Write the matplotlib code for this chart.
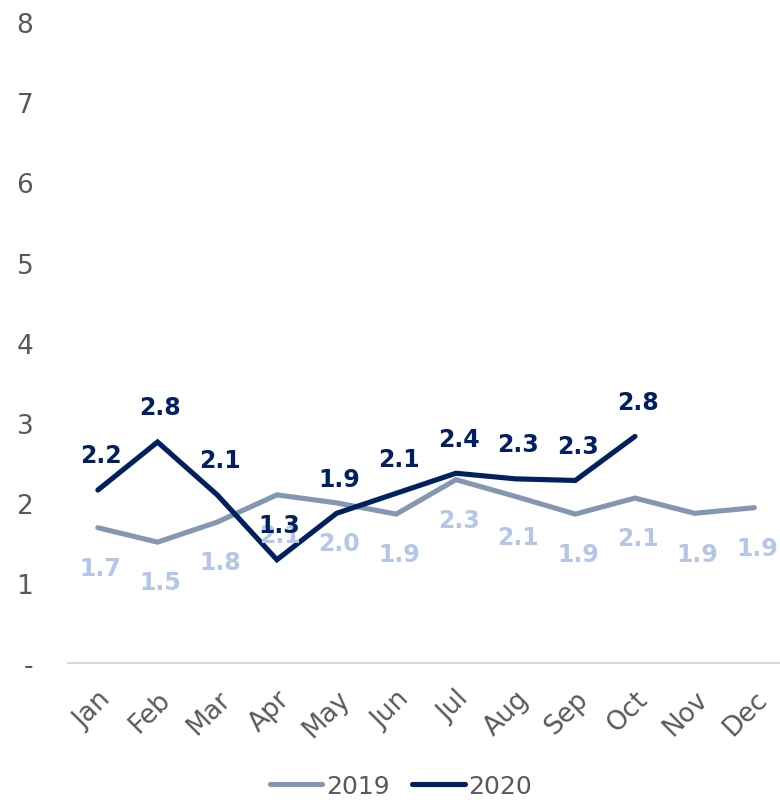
import numpy as np
import matplotlib
matplotlib.use('Agg')
import matplotlib.pyplot as plt
from matplotlib.transforms import ScaledTranslation


# monthly values, 2019 full year and 2020 up to October
months = ['Jan', 'Feb', 'Mar', 'Apr', 'May', 'Jun',
          'Jul', 'Aug', 'Sep', 'Oct', 'Nov', 'Dec']
vals_2019 = [1.69, 1.51, 1.76, 2.10, 2.00, 1.86, 2.29, 2.08, 1.86, 2.06, 1.87, 1.94]
vals_2020 = [2.16, 2.76, 2.10, 1.29, 1.87, 2.12, 2.37, 2.30, 2.28, 2.83]
ytick_labels = ['-', '1', '2', '3', '4', '5', '6', '7', '8']

C2019 = '#8497b0'
C2019_LBL = '#b4c7e7'
C2020 = '#002060'
GRAY = '#595959'


def main():
    plt.rcParams['font.family'] = ['DejaVu Sans']
    fig = plt.figure(figsize=(7.8, 8.03), dpi=100)
    ax = fig.add_axes([0.0872, 0.173, 0.9128, 0.798])

    x19 = np.arange(len(vals_2019))
    x20 = np.arange(len(vals_2020))
    ax.plot(x19, vals_2019, color=C2019, lw=3.7, solid_capstyle='round',
            solid_joinstyle='miter', label='2019', zorder=2)
    ax.plot(x20, vals_2020, color=C2020, lw=3.7, solid_capstyle='round',
            solid_joinstyle='miter', label='2020', zorder=3)

    # data labels: 2019 below the line, 2020 above
    for x, v in zip(x19, vals_2019):
        ax.annotate(f'{v:.1f}', (x, v), xytext=(2, -29), textcoords='offset points',
                    ha='center', va='center', fontsize=17, fontweight='bold',
                    color=C2019_LBL, zorder=4)
    for x, v in zip(x20, vals_2020):
        ax.annotate(f'{v:.1f}', (x, v), xytext=(2, 25), textcoords='offset points',
                    ha='center', va='center', fontsize=17, fontweight='bold',
                    color=C2020, zorder=5)

    ax.set_xlim(-0.5, 11.43)
    ax.set_ylim(0, 8)
    ax.set_yticks(range(9))
    ax.set_yticklabels(ytick_labels, fontsize=19, color=GRAY)
    ax.set_xticks(x19)
    ax.set_xticklabels(months, fontsize=19, color=GRAY, rotation=45,
                       ha='right', va='top', rotation_mode='anchor')
    off = ScaledTranslation(3 / 100, 0, fig.dpi_scale_trans)
    for lbl in ax.get_xticklabels():
        lbl.set_transform(lbl.get_transform() + off)
    ax.tick_params(axis='x', length=0, pad=16)
    ax.tick_params(axis='y', length=0, pad=25)

    for s in ['top', 'right', 'left']:
        ax.spines[s].set_visible(False)
    ax.spines['bottom'].set_color('#d9d9d9')
    ax.spines['bottom'].set_linewidth(1.6)

    leg = fig.legend(loc='center', bbox_to_anchor=(0.514, 0.02), ncol=2,
                     frameon=False, fontsize=18, handlelength=2.1,
                     handletextpad=0.15, columnspacing=0.9,
                     borderpad=0.2)
    for t in leg.get_texts():
        t.set_color(GRAY)

    fig.savefig('out.png', dpi=100)


if __name__ == '__main__':
    main()
